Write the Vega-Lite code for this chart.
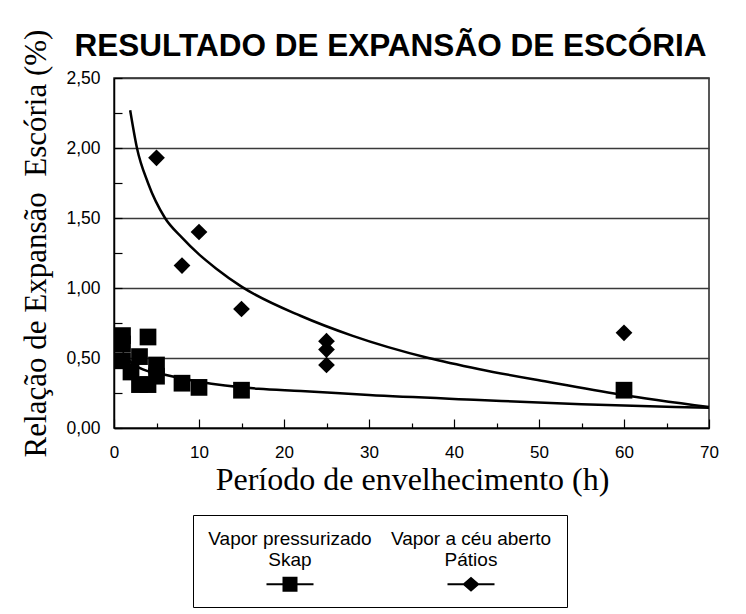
{
  "$schema": "https://vega.github.io/schema/vega-lite/v6.json",
  "width": 595,
  "height": 350,
  "autosize": {"type": "none"},
  "padding": {"left": 114, "top": 78, "right": 37, "bottom": 186},
  "background": "white",
  "title": {
    "text": "RESULTADO DE EXPANSÃO DE ESCÓRIA",
    "font": "Liberation Sans",
    "fontSize": 31.5,
    "fontWeight": "bold",
    "color": "black",
    "anchor": "middle",
    "baseline": "alphabetic",
    "dx": -21,
    "offset": -44,
    "dy": 14
  },
  "datasets": {
    "ensaios": [
      {"tempo": 1, "expansao": 0.66, "serie": "Skap"},
      {"tempo": 1, "expansao": 0.60, "serie": "Skap"},
      {"tempo": 1, "expansao": 0.48, "serie": "Skap"},
      {"tempo": 2, "expansao": 0.40, "serie": "Skap"},
      {"tempo": 3, "expansao": 0.51, "serie": "Skap"},
      {"tempo": 3, "expansao": 0.31, "serie": "Skap"},
      {"tempo": 4, "expansao": 0.65, "serie": "Skap"},
      {"tempo": 4, "expansao": 0.31, "serie": "Skap"},
      {"tempo": 5, "expansao": 0.45, "serie": "Skap"},
      {"tempo": 5, "expansao": 0.37, "serie": "Skap"},
      {"tempo": 8, "expansao": 0.32, "serie": "Skap"},
      {"tempo": 10, "expansao": 0.29, "serie": "Skap"},
      {"tempo": 15, "expansao": 0.27, "serie": "Skap"},
      {"tempo": 60, "expansao": 0.27, "serie": "Skap"},
      {"tempo": 5, "expansao": 1.93, "serie": "Pátios"},
      {"tempo": 8, "expansao": 1.16, "serie": "Pátios"},
      {"tempo": 10, "expansao": 1.40, "serie": "Pátios"},
      {"tempo": 15, "expansao": 0.85, "serie": "Pátios"},
      {"tempo": 25, "expansao": 0.62, "serie": "Pátios"},
      {"tempo": 25, "expansao": 0.56, "serie": "Pátios"},
      {"tempo": 25, "expansao": 0.45, "serie": "Pátios"},
      {"tempo": 60, "expansao": 0.68, "serie": "Pátios"}
    ],
    "tendencias": [
      {"tempo": 1.9, "expansao": 2.27, "serie": "Pátios"},
      {"tempo": 2.7, "expansao": 2.0, "serie": "Pátios"},
      {"tempo": 4, "expansao": 1.75, "serie": "Pátios"},
      {"tempo": 6, "expansao": 1.5, "serie": "Pátios"},
      {"tempo": 8, "expansao": 1.36, "serie": "Pátios"},
      {"tempo": 10, "expansao": 1.24, "serie": "Pátios"},
      {"tempo": 12, "expansao": 1.14, "serie": "Pátios"},
      {"tempo": 15, "expansao": 1.01, "serie": "Pátios"},
      {"tempo": 22, "expansao": 0.8, "serie": "Pátios"},
      {"tempo": 28, "expansao": 0.66, "serie": "Pátios"},
      {"tempo": 37, "expansao": 0.5, "serie": "Pátios"},
      {"tempo": 43, "expansao": 0.42, "serie": "Pátios"},
      {"tempo": 51, "expansao": 0.33, "serie": "Pátios"},
      {"tempo": 59.5, "expansao": 0.24, "serie": "Pátios"},
      {"tempo": 70, "expansao": 0.15, "serie": "Pátios"},
      {"tempo": 1, "expansao": 0.54, "serie": "Skap"},
      {"tempo": 2, "expansao": 0.47, "serie": "Skap"},
      {"tempo": 3, "expansao": 0.43, "serie": "Skap"},
      {"tempo": 6, "expansao": 0.38, "serie": "Skap"},
      {"tempo": 10, "expansao": 0.33, "serie": "Skap"},
      {"tempo": 17, "expansao": 0.28, "serie": "Skap"},
      {"tempo": 22, "expansao": 0.265, "serie": "Skap"},
      {"tempo": 30, "expansao": 0.235, "serie": "Skap"},
      {"tempo": 43, "expansao": 0.2, "serie": "Skap"},
      {"tempo": 55, "expansao": 0.17, "serie": "Skap"},
      {"tempo": 66, "expansao": 0.15, "serie": "Skap"},
      {"tempo": 70, "expansao": 0.145, "serie": "Skap"}
    ]
  },
  "encoding": {
    "x": {
      "field": "tempo",
      "type": "quantitative",
      "scale": {"domain": [0, 70], "nice": false, "zero": false},
      "axis": {
        "title": "Período de envelhecimento (h)",
        "titleFont": "Liberation Serif",
        "titleFontSize": 32,
        "titleFontWeight": "normal",
        "titleColor": "black",
        "titleX": 298,
        "titleY": 61,
        "titleBaseline": "alphabetic",
        "titleAlign": "center",
        "values": [0, 5, 10, 15, 20, 25, 30, 35, 40, 45, 50, 55, 60, 65, 70],
        "labelExpr": "datum.value % 10 === 0 ? datum.label : ''",
        "labelFont": "Liberation Sans",
        "labelFontSize": 17,
        "labelColor": "black",
        "labelPadding": 25,
        "labelFlush": false,
        "labelOverlap": false,
        "grid": false,
        "domainColor": "black",
        "domainWidth": 1.5,
        "tickColor": "black",
        "tickWidth": 1.2,
        "tickSize": {"condition": {"test": "datum.value % 10 === 0", "value": -9}, "value": -5}
      }
    },
    "y": {
      "field": "expansao",
      "type": "quantitative",
      "scale": {"domain": [0, 2.5], "nice": false},
      "axis": {
        "title": "Relação de Expansão\u00a0 Escória (%)",
        "titleFont": "Liberation Serif",
        "titleFontSize": 31,
        "titleFontWeight": "normal",
        "titleColor": "black",
        "titleAngle": 270,
        "titleX": -69,
        "titleY": 165,
        "titleBaseline": "alphabetic",
        "titleAlign": "center",
        "values": [0, 0.25, 0.5, 0.75, 1, 1.25, 1.5, 1.75, 2, 2.25, 2.5],
        "labelExpr": "round(datum.value * 4) % 2 === 0 ? replace(format(datum.value, '.2f'), '.', ',') : ''",
        "labelFont": "Liberation Sans",
        "labelFontSize": 17.5,
        "labelColor": "black",
        "labelPadding": 22,
        "labelFlush": false,
        "labelOverlap": false,
        "grid": true,
        "gridColor": "#3a3a3a",
        "gridWidth": 1.5,
        "gridOpacity": {"condition": {"test": "round(datum.value * 4) % 2 === 0", "value": 1}, "value": 0},
        "domainColor": "black",
        "domainWidth": 1.5,
        "tickColor": "black",
        "tickWidth": 1.2,
        "tickSize": -8
      }
    }
  },
  "layer": [
    {
      "data": {"name": "tendencias"},
      "mark": {"type": "line", "color": "black", "strokeWidth": 2.5, "interpolate": "monotone"},
      "encoding": {"detail": {"field": "serie"}}
    },
    {
      "data": {"values": []},
      "mark": {"type": "point", "filled": true, "color": "black", "opacity": 1},
      "encoding": {
        "shape": {
          "field": "serie",
          "type": "nominal",
          "scale": {
            "domain": ["Skap", "Pátios"],
            "range": [
              "M-1.567,2.533H-0.5V2.1H0.5V2.533H1.567V2.667H0.5V3.1H-0.5V2.667H-1.567Z",
              "M-1.567,2.533H-0.5L0,2.1L0.5,2.533H1.567V2.667H0.5L0,3.1L-0.5,2.667H-1.567Z"
            ]
          },
          "legend": {
            "title": null,
            "orient": "none",
            "legendX": 79,
            "legendY": 437,
            "direction": "horizontal",
            "strokeColor": "black",
            "padding": 15,
            "columnPadding": 17,
            "symbolSize": 900,
            "symbolStrokeWidth": 0,
            "symbolFillColor": "black",
            "symbolOpacity": 1,
            "symbolOffset": 67,
            "labelFont": "Liberation Sans",
            "labelFontSize": 19,
            "labelColor": "black",
            "labelLimit": 400,
            "labelAlign": "center",
            "labelBaseline": "alphabetic",
            "labelOffset": -15,
            "labelExpr": "datum.label === 'Skap' ? ['Vapor pressurizado', 'Skap'] : ['Vapor a céu aberto', 'Pátios']"
          }
        }
      }
    },
    {
      "data": {"name": "ensaios"},
      "mark": {"type": "point", "filled": true, "color": "black", "size": 280, "opacity": 1, "strokeWidth": 0},
      "encoding": {
        "shape": {
          "field": "serie",
          "type": "nominal",
          "scale": {"domain": ["Skap", "Pátios"], "range": ["square", "diamond"]},
          "legend": null
        }
      }
    }
  ],
  "resolve": {"scale": {"shape": "independent"}, "legend": {"shape": "independent"}},
  "config": {
    "view": {"stroke": "#222", "strokeWidth": 1.5}
  }
}
